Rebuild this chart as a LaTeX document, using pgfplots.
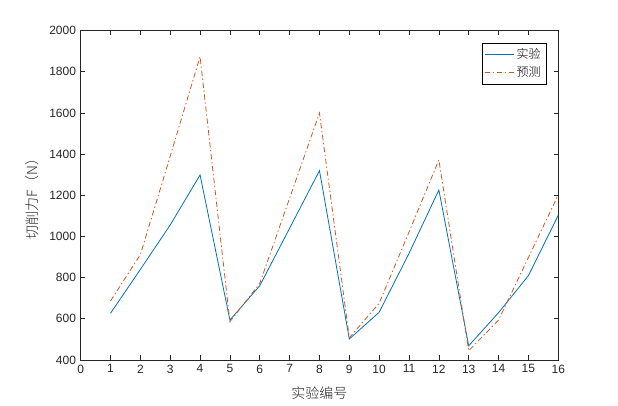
\documentclass[border=0pt]{standalone}
\usepackage{pgfplots}
\pgfplotsset{compat=1.18}
\usepackage{fontspec}
\setmainfont{Liberation Sans}
\newfontfamily\cjk{Noto Sans CJK SC Light}
\usetikzlibrary{calc}
\definecolor{mblue}{rgb}{0,0.447,0.741}
\definecolor{morange}{rgb}{0.85,0.325,0.098}
\definecolor{maxis}{rgb}{0.15,0.15,0.15}
\begin{document}
\begin{tikzpicture}
\begin{axis}[
  scale only axis,
  width=358.2pt, height=247pt,
  xmin=0, xmax=16, ymin=400, ymax=2000,
  xtick={0,1,...,16},
  ytick={400,600,...,2000},
  tick align=inside,
  tick pos=both,
  major tick length=3.5pt,
  axis line style={maxis, line width=0.5pt},
  every tick/.style={maxis, line width=0.5pt},
  tick label style={font=\fontsize{9}{10}\selectfont, text=maxis},
  /pgf/number format/assume math mode=true,
  /pgf/number format/1000 sep={},
  xlabel={\cjk 实验编号},
  ylabel={\cjk 切削力F（N）},
  label style={font=\fontsize{10.5}{12}\selectfont, text=maxis},
  xlabel style={yshift=-3pt},
  ylabel style={yshift=1pt},
  legend style={at={(0.975,0.964)}, anchor=north east, draw=black, line width=0.5pt,
    font=\fontsize{9}{10}\selectfont\cjk, inner sep=2pt, row sep=1pt},
  legend cell align=left,
  legend image code/.code={\draw[#1] (0cm,0cm) -- (0.75cm,0cm);},
]
\addplot[mblue, line width=0.6pt] coordinates {
(1,627) (2,840) (3,1056) (4,1299) (5,594) (6,761) (7,1040) (8,1320)
(9,502) (10,632) (11,918) (12,1226) (13,469) (14,630) (15,810) (16,1103)};
\addlegendentry{实验}
\addplot[morange, line width=0.6pt, dash pattern=on 4pt off 2pt on 1pt off 2pt] coordinates {
(1,687) (2,912) (3,1390) (4,1874) (5,586) (6,772) (7,1186) (8,1600)
(9,508) (10,676) (11,1022) (12,1372) (13,445) (14,594) (15,898) (16,1202)};
\addlegendentry{预测}
\end{axis}
\path[use as bounding box] ($(current axis.south west)+(-60.5pt,-34.5pt)$) rectangle ($(current axis.north east)+(44.8pt,23pt)$);
\end{tikzpicture}
\end{document}
